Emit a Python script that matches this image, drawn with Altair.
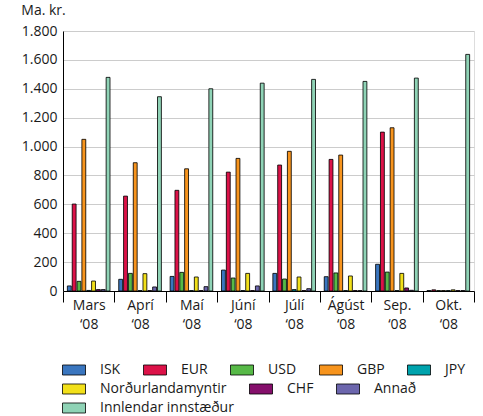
import altair as alt
import pandas as pd

# Monthly deposits by currency, billions of ISK (Ma. kr.)
months = ["Mars", "Aprí", "Maí", "Júní", "Júlí", "Ágúst", "Sep.", "Okt."]
series = ["ISK", "EUR", "USD", "GBP", "JPY", "Norðurlandamyntir", "CHF", "Annað",
          "Innlendar innstæður"]
colors = ["#3a76bf", "#dc1248", "#57b947", "#f7941d", "#00a3ad", "#f2e01a",
          "#850f6b", "#6c66ad", "#8fd3b6"]

isk = [35, 81, 101, 145, 122, 99, 185, 3]
eur = [602, 657, 697, 823, 872, 911, 1100, 8]
usd = [67, 122, 129, 90, 83, 125, 131, 3]
gbp = [1050, 888, 846, 918, 967, 941, 1130, 3]
jpy = [4, 3, 3, 3, 10, 3, 3, 3]
nord = [69, 120, 97, 122, 97, 104, 122, 8]
chf = [10, 3, 3, 3, 3, 3, 21, 3]
annad = [10, 28, 30, 35, 16, 3, 5, 3]
innlendar = [1479, 1345, 1400, 1439, 1465, 1451, 1474, 1638]

values = [isk, eur, usd, gbp, jpy, nord, chf, annad, innlendar]

rows = []
for name, vals in zip(series, values):
    for m, v in zip(months, vals):
        rows.append({"month": m, "series": name, "value": v})
df = pd.DataFrame(rows)

font = "Open Sans"
text_color = "#1a1a1a"

x_enc = alt.X(
    "month:N", sort=months, title=None,
    scale=alt.Scale(paddingInner=0, paddingOuter=0),
    axis=alt.Axis(
        labelAngle=0, tickBand="extent", tickSize=11, tickColor="black",
        domainColor="black",
        labelExpr="datum.extra || !datum.label ? '' : [datum.label, '‘08']",
        labelPadding=-4, labelLineHeight=19, labelFontSize=14,
        labelColor=text_color, labelFont=font,
    ),
)
y_enc = alt.Y(
    "value:Q", title=None,
    scale=alt.Scale(domain=[0, 1800]),
    axis=alt.Axis(
        values=list(range(0, 1801, 200)), ticks=False, domainColor="black",
        labelExpr="replace(format(datum.value, ',d'), ',', '.')",
        labelPadding=6, labelFontSize=14, labelColor=text_color, labelFont=font,
        gridColor="#cccccc",
    ),
)
xoff = alt.XOffset(
    "series:N", sort=series,
    scale=alt.Scale(domain=series, paddingInner=0.2, paddingOuter=0.9),
)

rect_symbol = "M-1,-0.435H1V0.435H-1Z"


def legend_row(y):
    return alt.Legend(
        orient="none", direction="horizontal", title=None, legendX=-1, legendY=y,
        symbolType=rect_symbol, symbolSize=529, symbolStrokeColor="black",
        symbolStrokeWidth=0.8, symbolOpacity=1, labelFont=font, labelFontSize=14,
        labelColor=text_color, labelOffset=14, columnPadding=20,
    )


# Soft grey drop shadow behind every bar
shadow = alt.Chart(df).mark_bar(
    color="#8a8a8a", opacity=0.7, xOffset=1.5
).encode(x=x_enc, y=y_enc, xOffset=xoff)

# One bar layer per legend row, each with its own colour legend
legend_rows = [series[0:5], series[5:8], series[8:9]]
legend_y = [327, 346, 365]

layers = [shadow]
for names, ly in zip(legend_rows, legend_y):
    cols = [colors[series.index(n)] for n in names]
    layers.append(
        alt.Chart(df).transform_filter(
            alt.FieldOneOfPredicate(field="series", oneOf=names)
        ).mark_bar(stroke="black", strokeWidth=0.8).encode(
            x=x_enc, y=y_enc, xOffset=xoff,
            color=alt.Color(
                "series:N", sort=names,
                scale=alt.Scale(domain=names, range=cols),
                legend=legend_row(ly),
            ),
        )
    )

chart = alt.layer(*layers).resolve_scale(
    color="independent"
).properties(
    width=411, height=260,
    title=alt.Title("Ma. kr.", anchor="start", font=font, fontSize=14,
                    fontWeight="normal", color=text_color, offset=6),
    autosize=alt.AutoSizeParams(type="none"),
    padding={"left": 63, "top": 31, "right": 9, "bottom": 125},
).configure_view(
    stroke="black", strokeWidth=1
).configure(background="white")

chart.save("out.html", embed_options={"renderer": "svg", "actions": False})
